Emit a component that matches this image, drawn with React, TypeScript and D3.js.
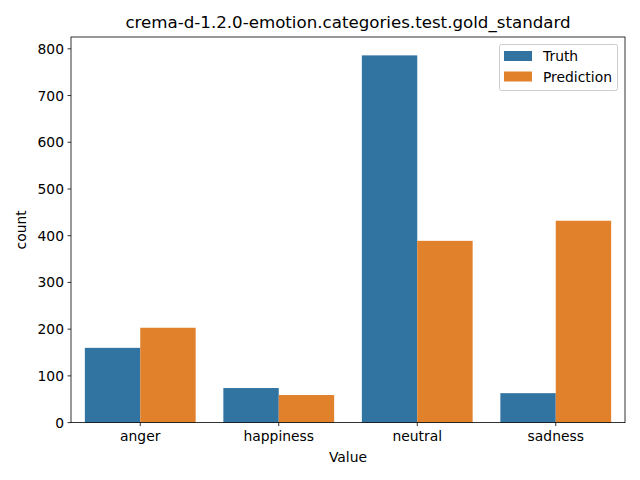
import React from "react";
import * as d3 from "d3";

const categories = ["anger", "happiness", "neutral", "sadness"];
const seriesNames = ["Truth", "Prediction"];
const truthValues = [160, 74, 786, 63];
const predictionValues = [203, 59, 389, 432];
const yTicks = [0, 100, 200, 300, 400, 500, 600, 700, 800];
const colors = ["#3274a1", "#e1812c"];

export default function App() {
  const W = 640, H = 480;
  const left = 71, right = 625, top = 37, bottom = 422.6;
  const font = "DejaVu Sans, sans-serif";
  const fs = 13.89;
  const x = d3.scaleBand().domain(categories).range([left, right]).paddingInner(0).paddingOuter(0);
  const maxV = d3.max([...truthValues, ...predictionValues]) as number;
  const y = d3.scaleLinear().domain([0, maxV * 1.05]).range([bottom, top]);
  const inner = d3.scaleBand().domain(seriesNames).range([0, x.bandwidth() * 0.8]);
  const series = [truthValues, predictionValues];
  return (
    <svg width={W} height={H} style={{ position: "absolute", left: 0, top: 0 }} fontFamily={font}>
      <rect width={W} height={H} fill="white" />
      {series.map((vals, si) =>
        categories.map((c, i) => (
          <rect key={`${si}-${i}`}
            x={(x(c) as number) + x.bandwidth() * 0.1 + (inner(seriesNames[si]) as number)}
            y={y(vals[i])}
            width={inner.bandwidth()}
            height={bottom - y(vals[i])}
            fill={colors[si]} />
        ))
      )}
      {yTicks.map(t => (
        <g key={t} transform={`translate(0,${y(t)})`}>
          <line x1={left - 3.5} x2={left} stroke="black" strokeWidth={0.8} />
          <text x={left - 7} dy="0.36em" textAnchor="end" fontSize={fs}>{t}</text>
        </g>
      ))}
      {categories.map(c => {
        const cx = (x(c) as number) + x.bandwidth() / 2;
        return (
          <g key={c} transform={`translate(${cx},${bottom})`}>
            <line y1={0} y2={3.5} stroke="black" strokeWidth={0.8} />
            <text y={18} textAnchor="middle" fontSize={fs}>{c}</text>
          </g>
        );
      })}
      <rect x={left} y={top} width={right - left} height={bottom - top} fill="none" stroke="black" strokeWidth={0.8} />
      <text x={(left + right) / 2} y={28} textAnchor="middle" fontSize={16.67}>crema-d-1.2.0-emotion.categories.test.gold_standard</text>
      <text x={(left + right) / 2} y={462} textAnchor="middle" fontSize={fs}>Value</text>
      <text transform={`translate(26,${(top + bottom) / 2}) rotate(-90)`} textAnchor="middle" fontSize={fs}>count</text>
      <g>
        <rect x={499.5} y={44.5} width={118} height={46} rx={2} fill="white" fillOpacity={0.8} stroke="#cccccc" strokeWidth={1} />
        {seriesNames.map((s, i) => (
          <g key={s} transform={`translate(0,${i * 20.5})`}>
            <rect x={504} y={51} width={28} height={10} fill={colors[i]} />
            <text x={543} y={61} fontSize={fs}>{s}</text>
          </g>
        ))}
      </g>
    </svg>
  );
}
